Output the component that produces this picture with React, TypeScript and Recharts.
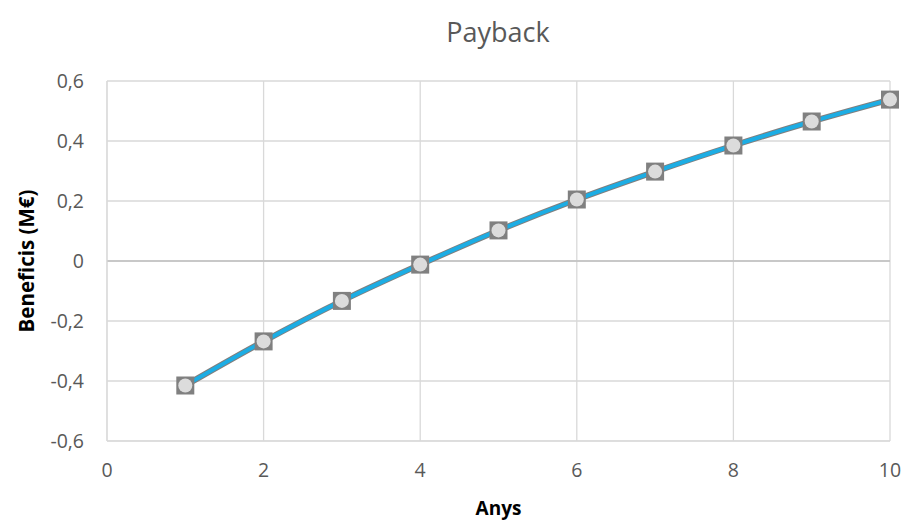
import React from "react";
import {
  LineChart,
  Line,
  XAxis,
  YAxis,
  CartesianGrid,
  ReferenceLine,
} from "recharts";

const years = [1, 2, 3, 4, 5, 6, 7, 8, 9, 10];
const benefits = [-0.415, -0.268, -0.133, -0.012, 0.102, 0.205, 0.298, 0.385, 0.465, 0.538];
const xTicks = [0, 2, 4, 6, 8, 10];
const yTicks = [-0.6, -0.4, -0.2, 0, 0.2, 0.4, 0.6];

const data = years.map((y, i) => ({ year: y, value: benefits[i] }));

const FONT = "'Open Sans', 'DejaVu Sans', sans-serif";

const fmt = (v: number) => (v === 0 ? "0" : v.toFixed(1).replace(".", ","));

const SquareDot = (props: any) => {
  const { cx, cy } = props;
  if (cx == null || cy == null) return null;
  return <rect x={cx - 9} y={cy - 9} width={18} height={18} fill="#808080" />;
};

const CircleDot = (props: any) => {
  const { cx, cy } = props;
  if (cx == null || cy == null) return null;
  return <circle cx={cx} cy={cy} r={7} fill="#DCDCDC" />;
};

export default function App() {
  return (
    <div style={{ position: "absolute", left: 0, top: 0, width: 906, height: 522, background: "#fff", fontFamily: FONT }}>
      <div
        style={{
          position: "absolute",
          left: 0,
          width: 906,
          top: 13,
          textAlign: "center",
          fontSize: 27,
          color: "#595959",
          lineHeight: "38px",
          paddingLeft: 90,
          boxSizing: "border-box",
        }}
      >
        Payback
      </div>
      <LineChart
        width={906}
        height={522}
        data={data}
        margin={{ top: 81, right: 16, bottom: 0, left: 0 }}
      >
        <CartesianGrid stroke="#D9D9D9" strokeWidth={1.3} vertical={true} horizontal={true} />
        <XAxis
          dataKey="year"
          type="number"
          domain={[0, 10]}
          ticks={xTicks}
          height={81}
          tickLine={false}
          axisLine={{ stroke: "#D9D9D9" }}
          tickSize={0}
          tickMargin={22}
          tick={{ fill: "#595959", fontSize: 19.5, fontFamily: FONT }}
          label={{
            value: "Anys",
            position: "insideBottom",
            offset: 7,
            style: { fill: "#000", fontSize: 19, fontWeight: 700, fontFamily: FONT },
          }}
        />
        <YAxis
          type="number"
          domain={[-0.6, 0.6]}
          ticks={yTicks}
          width={107}
          tickLine={false}
          axisLine={{ stroke: "#D9D9D9" }}
          tickSize={0}
          tickMargin={23}
          tickFormatter={fmt}
          tick={{ fill: "#595959", fontSize: 19.5, fontFamily: FONT }}
          label={{
            value: "Beneficis (M€)",
            angle: -90,
            position: "insideLeft",
            offset: 27,
            style: { textAnchor: "middle", fill: "#000", fontSize: 20.5, fontWeight: 700, fontFamily: FONT },
          }}
        />
        <ReferenceLine y={0} stroke="#BFBFBF" strokeWidth={1.3} />
        <Line
          type="monotone"
          dataKey="value"
          stroke="#7F7F7F"
          strokeWidth={6}
          dot={<SquareDot />}
          activeDot={false}
          isAnimationActive={false}
        />
        <Line
          type="monotone"
          dataKey="value"
          stroke="#1CADE4"
          strokeWidth={4}
          dot={<CircleDot />}
          activeDot={false}
          isAnimationActive={false}
        />
      </LineChart>
    </div>
  );
}
